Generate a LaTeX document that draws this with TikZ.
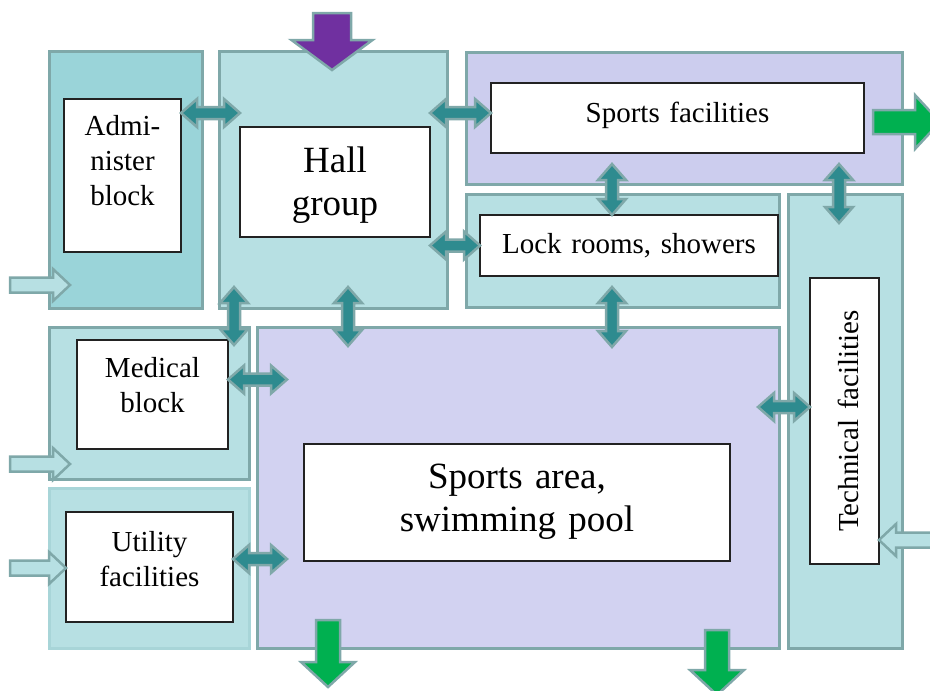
\documentclass[tikz,border=0pt]{standalone}
\usepackage{fontspec}
\setmainfont{Liberation Serif}
\usetikzlibrary{calc}
\definecolor{edge}{HTML}{7FA8A9}
\definecolor{softedge}{HTML}{A8D5D8}
\definecolor{deep}{HTML}{9AD4D9}
\definecolor{pale}{HTML}{B7E0E3}
\definecolor{lilac}{HTML}{CCCDEE}
\definecolor{lilacarea}{HTML}{D2D2F1}
\definecolor{linkteal}{HTML}{2E8B8F}
\definecolor{outgreen}{HTML}{00B050}
\definecolor{accesspurple}{HTML}{7030A0}
\definecolor{boxline}{HTML}{222222}
\tikzset{
  zone/.style={draw=edge, line width=3pt, inner sep=0pt, outer sep=0pt, anchor=north west},
  room/.style={draw=boxline, fill=white, line width=1.2pt, inner sep=0pt, outer sep=0pt,
    align=center, anchor=north west, font=\fontsize{29}{35}\selectfont},
  big/.style={font=\fontsize{37}{43.5}\selectfont},
  block arrow/.style n args={3}{to path={
    -- ($(\tikztostart)!#1!90:(\tikztotarget)$)
    -- ($(\tikztotarget)!#3!(\tikztostart)!#1!-90:(\tikztostart)$)
    -- ($(\tikztotarget)!#3!(\tikztostart)!#2!-90:(\tikztostart)$)
    -- (\tikztotarget)
    -- ($(\tikztotarget)!#3!(\tikztostart)!#2!90:(\tikztostart)$)
    -- ($(\tikztotarget)!#3!(\tikztostart)!#1!90:(\tikztostart)$)
    -- ($(\tikztostart)!#1!-90:(\tikztotarget)$)
    -- cycle}},
  double block/.style n args={3}{to path={
    -- ($(\tikztostart)!#3!(\tikztotarget)!#2!90:(\tikztotarget)$)
    -- ($(\tikztostart)!#3!(\tikztotarget)!#1!90:(\tikztotarget)$)
    -- ($(\tikztotarget)!#3!(\tikztostart)!#1!-90:(\tikztostart)$)
    -- ($(\tikztotarget)!#3!(\tikztostart)!#2!-90:(\tikztostart)$)
    -- (\tikztotarget)
    -- ($(\tikztotarget)!#3!(\tikztostart)!#2!90:(\tikztostart)$)
    -- ($(\tikztotarget)!#3!(\tikztostart)!#1!90:(\tikztostart)$)
    -- ($(\tikztostart)!#3!(\tikztotarget)!#1!-90:(\tikztotarget)$)
    -- ($(\tikztostart)!#3!(\tikztotarget)!#2!-90:(\tikztotarget)$)
    -- cycle}},
  link/.style={draw=edge, line width=2.5pt, fill=linkteal, double block={6pt}{14pt}{16pt}},
  inflow/.style={draw=edge, line width=2.5pt, fill=pale, block arrow={7.5pt}{16pt}{17pt}},
  outflow/.style={draw=edge, line width=2.5pt, fill=outgreen, block arrow={12pt}{27pt}{25pt}},
  access/.style={draw=edge, line width=2.5pt, fill=accesspurple, block arrow={19pt}{40.5pt}{30pt}},
}
\begin{document}
\begin{tikzpicture}[x=1pt,y=-1pt]
  \useasboundingbox (0,0) rectangle (930,691);
  \clip (0,0) rectangle (930,691);

  \node[zone, fill=deep, minimum width=153pt, minimum height=257pt] (zadm) at (49,51) {};
  \node[zone, fill=pale, minimum width=228pt, minimum height=257pt] (zhall) at (219,51) {};
  \node[zone, fill=lilac, minimum width=436pt, minimum height=132pt] (zsport) at (466,52) {};
  \node[zone, fill=pale, minimum width=313pt, minimum height=113pt] (zlock) at (466,194) {};
  \node[zone, fill=pale, minimum width=114pt, minimum height=454pt] (ztech) at (788,194) {};
  \node[zone, fill=pale, minimum width=200pt, minimum height=152pt] (zmed) at (49,327) {};
  \node[zone, fill=pale, draw=softedge, minimum width=200pt, minimum height=160pt] (zutil) at (49,488) {};
  \node[zone, fill=lilacarea, minimum width=522pt, minimum height=321pt] (zarea) at (257,327) {};

  \node[room, text width=117pt, text height=36pt, text depth=117pt] (adm) at (64,99) {Admi-\\nister\\block};
  \node[room, big, text width=190pt, text height=45pt, text depth=65pt] (hall) at (240,127) {Hall\\group};
  \node[room, text width=373pt, text height=39pt, text depth=31pt] (sport) at (491,83) {Sports facilities};
  \node[room, text width=298pt, text height=38pt, text depth=23pt] (lock) at (480,215) {Lock rooms, showers};
  \node[room, text width=151pt, text height=37pt, text depth=72pt] (med) at (77,340) {Medical\\block};
  \node[room, text width=167pt, text height=39pt, text depth=71pt] (util) at (66,512) {Utility\\facilities};
  \node[room, big, text width=426pt, text height=44pt, text depth=73pt] (area) at (304,444) {Sports area,\\swimming pool};
  \node[room, anchor=center, rotate=90, text width=286pt, text height=48pt, text depth=21pt] (tech) at (844.5,421) {Technical facilities};

  \begin{scope}
    \draw[link] ([yshift=-14pt]adm.north east) to ([yshift=-14pt]adm.north east -| hall.west);
    \draw[link] ([yshift=5pt]sport.west -| hall.east) to ([yshift=5pt]sport.west);
    \draw[link] (lock.west -| hall.east) to (lock.west);
    \draw[link] ([xshift=-17pt,yshift=20pt]lock.north |- zsport.south) to ([xshift=-17pt]lock.north);
    \draw[link] ([xshift=-6pt,yshift=20pt]ztech.north |- zsport.south) to ([xshift=-6pt,yshift=-29pt]ztech.north);
    \draw[link] ([xshift=-17pt,yshift=20pt]lock.north |- zlock.south) to ([xshift=-17pt,yshift=-20pt]lock.north |- zarea.north);
    \draw[link] ([xshift=15pt,yshift=21pt]zhall.south west) to ([xshift=15pt,yshift=-18pt]zhall.south west |- zmed.north);
    \draw[link] ([xshift=15pt,yshift=21pt]zhall.south) to ([xshift=15pt,yshift=-19pt]zhall.south |- zarea.north);
    \draw[link] ([yshift=15pt]med.east) to ([xshift=30pt,yshift=15pt]med.east -| zarea.west);
    \draw[link] ([yshift=8pt]util.east) to ([xshift=30pt,yshift=8pt]util.east -| zarea.west);
    \draw[link] ([xshift=-21pt,yshift=14pt]tech.north -| zarea.east) to ([yshift=14pt]tech.north);
  \end{scope}

  \coordinate (in0) at (332,13);
  \coordinate (in1) at (10,285);
  \coordinate (in2) at (10,464);
  \coordinate (in3) at (10,568);
  \coordinate (in4) at (935,540);
  \coordinate (out1) at (328,620);
  \coordinate (out2) at (717,630);
  \coordinate (out3) at (873,122);

  \draw[access] (in0) to ([yshift=-19pt]in0 |- zhall.north);
  \draw[inflow] (in1) to ([xshift=21pt]in1 -| zadm.west);
  \draw[inflow] (in2) to ([xshift=21pt]in2 -| zmed.west);
  \draw[inflow] (in3) to (in3 -| util.west);
  \draw[inflow] (in4) to (in4 -| tech.south);
  \draw[outflow] (out1) to ([yshift=-39pt]out1 |- zarea.south);
  \draw[outflow] (out2) to ([yshift=-47pt]out2 |- zarea.south);
  \draw[outflow] (out3) to ([xshift=38pt]out3 -| zsport.east);
\end{tikzpicture}
\end{document}
